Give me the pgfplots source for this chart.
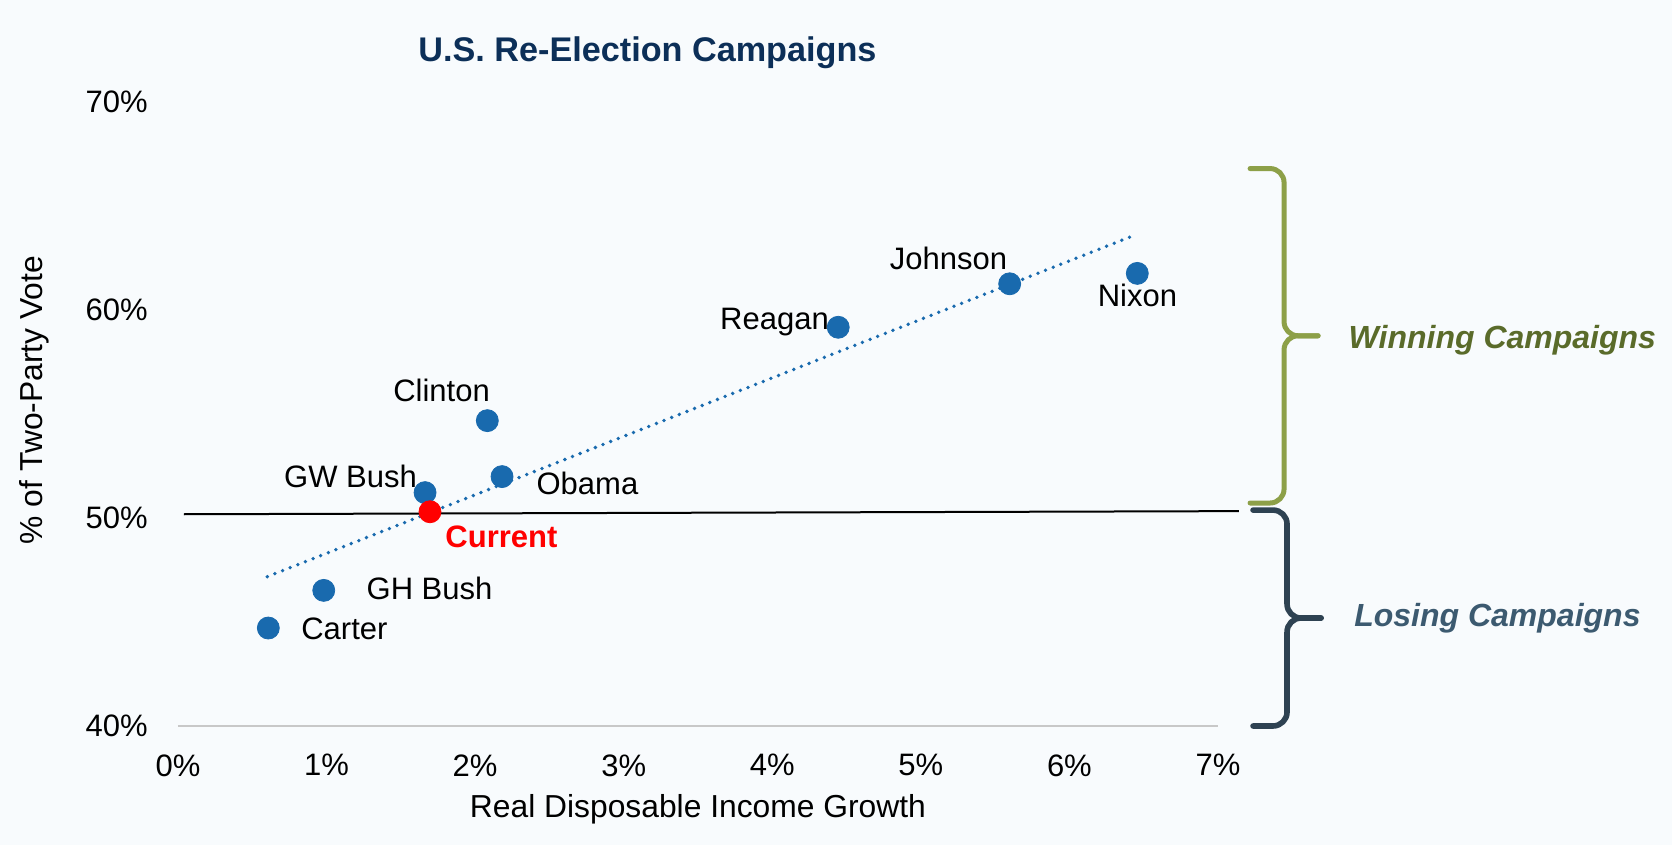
\documentclass[border=0pt]{standalone}
\usepackage{fontspec}
\setmainfont{Liberation Sans}
\usepackage{pgfplots}
\pgfplotsset{compat=1.18}

\definecolor{bgc}{RGB}{248,251,253}
\definecolor{ptblue}{RGB}{25,106,174}
\definecolor{navy}{RGB}{12,47,88}
\definecolor{winbrace}{RGB}{141,160,72}
\definecolor{wintext}{RGB}{90,107,42}
\definecolor{losebrace}{RGB}{46,66,82}
\definecolor{losetext}{RGB}{60,90,112}
\definecolor{axgray}{RGB}{200,200,200}

\begin{document}
\begin{tikzpicture}
\fill[bgc] (-89pt,-59.5pt) rectangle (747pt,363pt);
\begin{axis}[
  scale only axis, width=520pt, height=312pt,
  xmin=0, xmax=7, ymin=40, ymax=70,
  clip=false,
  axis line style={draw=none},
  major tick length=0pt,
  xtick={0,1,2,3,4,5,6,7},
  xticklabels={0\%,1\%,2\%,3\%,4\%,5\%,6\%,7\%},
  ytick={40,50,60,70},
  yticklabels={40\%,50\%,60\%,70\%},
  tick label style={font=\fontsize{15.5}{18}\selectfont, inner sep=0pt},
  xticklabel style={yshift=-14pt},
  yticklabel style={xshift=-15pt},
]
\draw[axgray, line width=1pt] (axis cs:0,40) -- (axis cs:7,40);

% blue points
\addplot[only marks, mark=*, mark size=5.5pt, ptblue, mark options={draw=none, fill=ptblue}] coordinates {
  (0.608,44.71) (0.981,46.52) (1.663,51.22) (2.082,54.68) (2.181,51.99)
  (4.444,59.17) (5.598,61.26) (6.457,61.76)
};
% current
\addplot[only marks, mark=*, mark size=5.5pt, red, mark options={draw=none, fill=red}] coordinates {(1.696,50.30)};
% trend line
\addplot[ptblue, line width=1.9pt, line cap=round, dash pattern=on 0pt off 4.1pt] coordinates {(0.601,47.18) (6.437,63.59)};
% 50% line
\addplot[black, line width=1pt] coordinates {(0.04,50.18) (7.14,50.33)};

% data labels
\begin{scope}[every node/.style={font=\fontsize{15.5}{18}\selectfont, anchor=base, inner sep=0pt}]
\node at (axis cs:1.12,44.18) {Carter};
\node at (axis cs:1.693,46.09) {GH Bush};
\node at (axis cs:1.161,51.46) {GW Bush};
\node at (axis cs:2.756,51.12) {Obama};
\node at (axis cs:1.774,55.59) {Clinton};
\node at (axis cs:4.015,59.04) {Reagan};
\node at (axis cs:5.186,61.96) {Johnson};
\node at (axis cs:6.458,60.19) {Nixon};
\node[red, font=\fontsize{15.5}{18}\selectfont\bfseries] at (axis cs:2.177,48.57) {Current};
\end{scope}

% title and axis labels
\node[anchor=base, inner sep=0pt, navy, font=\fontsize{17.1}{20}\selectfont\bfseries] at (axis cs:3.16,71.97) {U.S. Re-Election Campaigns};
\node[anchor=base, inner sep=0pt, font=\fontsize{15.9}{18}\selectfont] at (axis cs:3.5,35.58) {Real Disposable Income Growth};
\node[anchor=base, inner sep=0pt, rotate=90, font=\fontsize{15.9}{18}\selectfont] at (axis cs:-0.909,55.67) {\% of Two-Party Vote};

% braces
\begin{scope}[line join=round, line cap=round]
\draw[winbrace, line width=2.5pt, rounded corners=7pt]
  (axis cs:7.216,66.80) -- ([xshift=17pt]axis cs:7.216,66.80) -- ([xshift=17pt]axis cs:7.216,58.76) -- ([xshift=34pt]axis cs:7.216,58.76);
\draw[winbrace, line width=2.5pt, rounded corners=7pt]
  (axis cs:7.216,50.72) -- ([xshift=17pt]axis cs:7.216,50.72) -- ([xshift=17pt]axis cs:7.216,58.76) -- ([xshift=34pt]axis cs:7.216,58.76);
\draw[losebrace, line width=2.8pt, rounded corners=7pt]
  (axis cs:7.236,50.38) -- ([xshift=17pt]axis cs:7.236,50.38) -- ([xshift=17pt]axis cs:7.236,45.19) -- ([xshift=34pt]axis cs:7.236,45.19);
\draw[losebrace, line width=2.8pt, rounded corners=7pt]
  (axis cs:7.236,40.0) -- ([xshift=17pt]axis cs:7.236,40.0) -- ([xshift=17pt]axis cs:7.236,45.19) -- ([xshift=34pt]axis cs:7.236,45.19);
\end{scope}
\node[anchor=base, inner sep=0pt, wintext, font=\fontsize{16}{19}\selectfont\bfseries\itshape] at (axis cs:8.914,58.17) {Winning Campaigns};
\node[anchor=base, inner sep=0pt, losetext, font=\fontsize{16}{19}\selectfont\bfseries\itshape] at (axis cs:8.881,44.76) {Losing Campaigns};
\end{axis}
\pgfresetboundingbox
\path[use as bounding box] (-89pt,-59.5pt) rectangle (747pt,363pt);
\end{tikzpicture}
\end{document}
